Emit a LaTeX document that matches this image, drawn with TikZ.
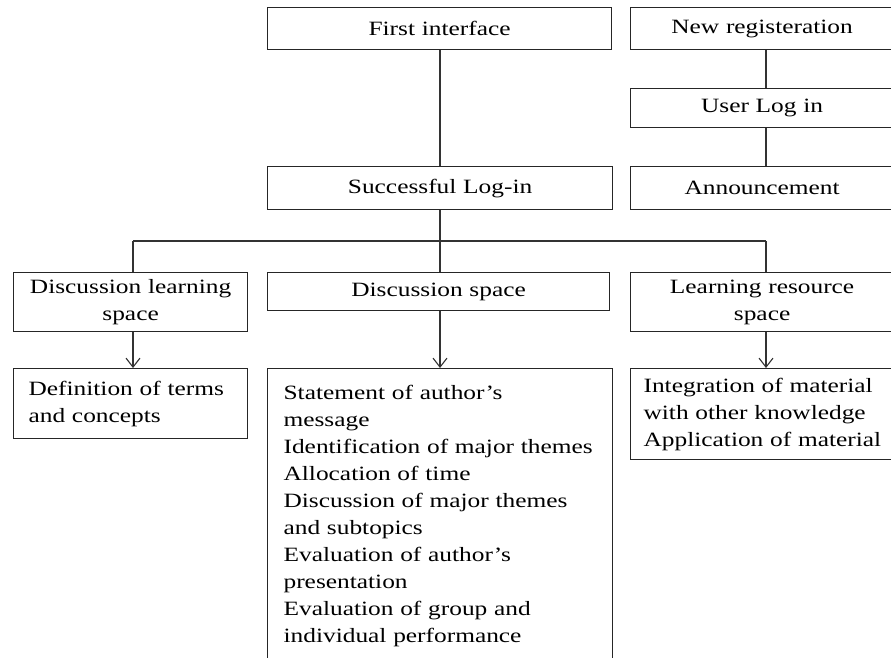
\documentclass[tikz,border=0pt]{standalone}
\usepackage{fontspec}
\setmainfont{Liberation Serif}[FakeStretch=1.25]
\usetikzlibrary{arrows.meta}
\hyphenpenalty=10000
\tikzset{
  box/.style={draw=black!85, line width=1.2pt, inner sep=0pt, anchor=north west,
    font=\fontsize{20.3}{27}\selectfont},
  cbox/.style={box, align=center},
  lbox/.style={box, align=left},
  link/.style={draw=black!80, line width=1.2pt},
  arr/.style={link, -{Straight Barb[length=9pt,width=14pt,line width=1.1pt]}}
}
\begin{document}
\begin{tikzpicture}[x=1pt,y=-1pt]
\clip (0,0) rectangle (891,658);
\fill[white] (0,0) rectangle (891,658);
% top row
\node[cbox, minimum width=344pt, minimum height=42pt, text width=344pt] (first) at (267,7) {First interface};
\node[cbox, minimum width=345pt, minimum height=43pt, text width=345pt] (succ) at (267,166) {Successful Log-in};
\node[cbox, minimum width=263pt, minimum height=42pt, text width=263pt] (newreg) at (630,7) {New registeration};
\node[cbox, minimum width=263pt, minimum height=39pt, text width=263pt] (userlog) at (630,88) {User Log in};
\node[cbox, minimum width=263pt, minimum height=43pt, text width=263pt] (announce) at (630,166) {Announcement};
% second row
\node[cbox, minimum width=234pt, minimum height=59pt, text width=234pt] (dls) at (13,272) {Discussion learning\\space};
\node[cbox, minimum width=342pt, minimum height=38pt, text width=342pt] (ds) at (267,272) {Discussion space};
\node[cbox, minimum width=263pt, minimum height=59pt, text width=263pt] (lrs) at (630,272) {Learning resource\\space};
% third row
\node[lbox, minimum width=234pt, minimum height=70pt, text width=204pt] (defs) at (13,368) {Definition of terms\\and concepts};
\node[lbox, minimum width=345pt, minimum height=294pt, text width=313pt] (stmt) at (267,368) {Statement of author's\\message\\Identification of major themes\\Allocation of time\\Discussion of major themes\\and subtopics\\Evaluation of author's\\presentation\\Evaluation of group and\\individual performance};
\node[lbox, inner xsep=13pt, minimum height=91pt, text width=250pt] (integ) at (630,368) {Integration of material\\with other knowledge\\Application of material};
% connectors
\coordinate (xr) at (766,0);
\coordinate (bl) at (133,241);
\coordinate (bm) at (440,241);
\coordinate (br) at (766,241);
\draw[link] (first.south -| bm) -- (succ.north -| bm);
\draw[link] (newreg.south -| xr) -- (userlog.north -| xr);
\draw[link] (userlog.south -| xr) -- (announce.north -| xr);
\draw[link] (succ.south -| bm) -- (ds.north -| bm);
\draw[link] (bl) -- (br);
\draw[link] (bl) -- (dls.north -| bl);
\draw[link] (br) -- (lrs.north -| br);
\draw[arr] (dls.south -| bl) -- (defs.north -| bl);
\draw[arr] (ds.south -| bm) -- (stmt.north -| bm);
\draw[arr] (lrs.south -| br) -- (integ.north -| br);
\end{tikzpicture}
\end{document}
